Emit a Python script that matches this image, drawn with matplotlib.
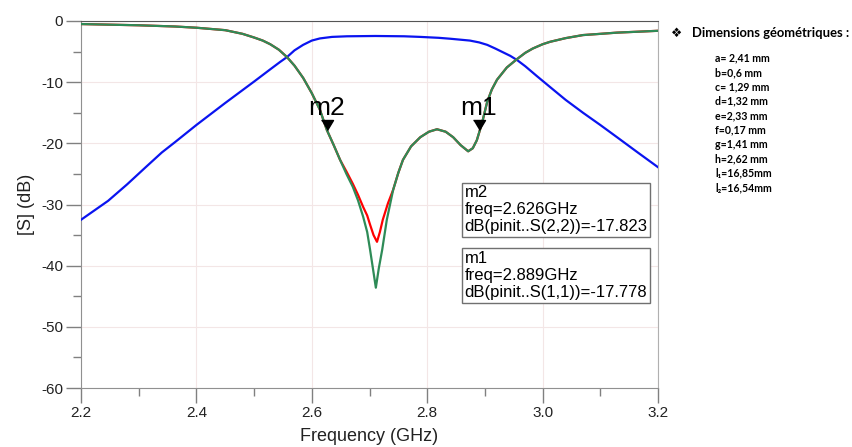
import numpy as np
import matplotlib as mpl
import matplotlib.pyplot as plt
from matplotlib.ticker import MultipleLocator

plt.rcParams['font.family'] = ['Liberation Sans', 'DejaVu Sans']
plt.rcParams['axes.unicode_minus'] = False

# -- courbes (GHz, dB)
freq_s21 = [2.20, 2.247, 2.28, 2.311, 2.34, 2.363, 2.40, 2.45, 2.48, 2.50, 2.528,
            2.545, 2.557, 2.57, 2.585, 2.60, 2.614, 2.635, 2.661, 2.71, 2.76,
            2.788, 2.82, 2.84, 2.874, 2.89, 2.904, 2.918, 2.931, 2.944, 2.956,
            2.97, 2.99, 3.013, 3.04, 3.07, 3.10, 3.129, 3.165, 3.20]
s21 = [-32.5, -29.4, -26.7, -24.0, -21.5, -19.8, -17.0, -13.4, -11.3, -9.9, -7.9,
       -6.7, -5.9, -4.8, -3.9, -3.2, -2.85, -2.6, -2.5, -2.45, -2.5,
       -2.6, -2.75, -2.9, -3.2, -3.5, -3.9, -4.5, -5.1, -5.7, -6.4,
       -7.4, -9.0, -10.8, -12.9, -15.0, -17.0, -19.0, -21.5, -23.9]

freq_s11 = [2.20, 2.30, 2.363, 2.40, 2.45, 2.48, 2.50, 2.515, 2.528, 2.543, 2.557,
            2.57, 2.585, 2.60, 2.614, 2.626, 2.638, 2.649, 2.660, 2.671, 2.680,
            2.689, 2.696, 2.701, 2.706, 2.711, 2.716, 2.722, 2.730, 2.741, 2.750,
            2.758, 2.772, 2.788, 2.803, 2.817, 2.832, 2.845, 2.858, 2.871, 2.879,
            2.886, 2.895, 2.904, 2.912, 2.921, 2.938, 2.956, 2.97, 2.983, 3.00,
            3.013, 3.04, 3.07, 3.10, 3.129, 3.165, 3.20]
s11 = [-0.5, -0.7, -0.9, -1.1, -1.5, -2.1, -2.7, -3.2, -3.8, -4.7, -5.9,
       -7.3, -9.3, -11.8, -14.5, -17.8, -20.3, -22.7, -25.0, -27.1, -29.3,
       -32.0, -34.5, -37.4, -40.5, -43.6, -40.5, -37.4, -32.5, -27.6, -24.8,
       -22.7, -20.5, -19.0, -18.1, -17.7, -18.1, -19.0, -20.3, -21.3, -20.8,
       -19.5, -16.7, -13.2, -11.2, -9.6, -7.6, -6.2, -5.2, -4.5, -3.8,
       -3.4, -2.8, -2.3, -2.1, -1.9, -1.75, -1.6]

freq_s22 = [2.20, 2.30, 2.363, 2.40, 2.45, 2.48, 2.50, 2.515, 2.528, 2.543, 2.557,
            2.57, 2.585, 2.60, 2.614, 2.626, 2.638, 2.649, 2.660, 2.671, 2.680,
            2.689, 2.696, 2.701, 2.707, 2.713, 2.718, 2.723, 2.732, 2.741, 2.750,
            2.758, 2.772, 2.788, 2.803, 2.817, 2.832, 2.845, 2.858, 2.871, 2.879,
            2.886, 2.895, 2.904, 2.912, 2.921, 2.938, 2.956, 2.97, 2.983, 3.00,
            3.013, 3.04, 3.07, 3.10, 3.129, 3.165, 3.20]
s22 = [-0.5, -0.7, -0.9, -1.1, -1.5, -2.1, -2.7, -3.2, -3.8, -4.7, -5.9,
       -7.3, -9.3, -11.8, -14.5, -17.8, -20.3, -22.7, -24.6, -26.6, -28.4,
       -30.4, -31.8, -33.3, -35.0, -36.1, -34.5, -32.5, -29.8, -27.6, -24.8,
       -22.7, -20.5, -19.0, -18.1, -17.7, -18.1, -19.0, -20.3, -21.3, -20.8,
       -19.5, -16.7, -13.2, -11.2, -9.6, -7.6, -6.2, -5.2, -4.5, -3.8,
       -3.4, -2.8, -2.3, -2.1, -1.9, -1.75, -1.6]

markers = ['m2', 'm1']
marker_freq = [2.626, 2.889]
marker_db = [-17.823, -17.778]
marker_trace = ['S(2,2)', 'S(1,1)']

dimensions = ['a= 2,41 mm', 'b=0,6 mm', 'c= 1,29 mm', 'd=1,32 mm', 'e=2,33 mm',
              'f=0,17 mm', 'g=1,41 mm', 'h=2,62 mm', 'l\u2081=16,85mm', 'l\u2082=16,54mm']

fig = plt.figure(figsize=(8.52, 4.47), dpi=100)
ax = fig.add_axes([81/852, 1-388/447, 577/852, 367/447])

ax.plot(freq_s21, s21, color='#0a14f0', lw=1.6, zorder=3)
ax.plot(freq_s22, s22, color='#ff0000', lw=1.6, zorder=3)
ax.plot(freq_s11, s11, color='#2e8b57', lw=1.6, zorder=4)

# -- marqueurs
tri = [(-0.6, 1), (0.6, 1), (0, 0)]
for name, f, db in zip(markers, marker_freq, marker_db):
    ax.plot([f], [db], marker=tri, ms=14.4, color='black', ls='none', zorder=5)
    ax.annotate(name, (f, db), xytext=(0, 7), textcoords='offset points',
                ha='center', va='bottom', fontsize=19, color='black', zorder=6)

box_y = [0.553, 0.374]
for name, f, db, tr, by in zip(markers, marker_freq, marker_db, marker_trace, box_y):
    txt = '%s\nfreq=%.3fGHz\ndB(pinit..%s)=%.3f' % (name, f, tr, db)
    ax.text(0.665, by, txt, transform=ax.transAxes, ha='left', va='top',
            fontsize=12, linespacing=1.18, zorder=7,
            bbox=dict(boxstyle='square,pad=0.15', fc='white', ec='#707070', lw=1))

ax.set_xlim(2.2, 3.2)
ax.set_ylim(-60, 0)
ax.xaxis.set_major_locator(MultipleLocator(0.2))
ax.xaxis.set_minor_locator(MultipleLocator(0.1))
ax.yaxis.set_major_locator(MultipleLocator(10))
ax.yaxis.set_minor_locator(MultipleLocator(5))
ax.xaxis.set_major_formatter(mpl.ticker.FormatStrFormatter('%.1f'))
ax.tick_params(which='major', length=11, width=1, color='#808080', labelsize=11,
               labelcolor='#222222', pad=2)
ax.tick_params(which='minor', length=6, width=1, color='#808080')
ax.grid(True, which='major', color='#f3e6e6', lw=0.8, zorder=0)

for side in ['left', 'bottom']:
    ax.spines[side].set_color('#909090')
ax.spines['top'].set_color('#555555')
ax.spines['right'].set_color('#b0b0b0')

ax.set_xlabel('Frequency (GHz)', fontsize=13, color='#222222', labelpad=6)
ax.set_ylabel('[S] (dB)', fontsize=13, color='#222222', labelpad=4)

# -- dimensions
fig.text(671/852, 1-33/447, '\u2756', fontsize=9, family=['DejaVu Sans'],
         ha='left', va='center')
fig.text(692/852, 1-33/447, 'Dimensions géométriques :', fontsize=9.4,
         fontweight='bold', family=['Lato', 'DejaVu Sans'], ha='left', va='center')
for i, d in enumerate(dimensions):
    fig.text(715/852, 1-(58+14.4*i)/447, d, fontsize=7.6, fontweight='bold',
             family=['Lato', 'DejaVu Sans'], ha='left', va='center')

plt.savefig('out.png', dpi=100)
plt.close()
